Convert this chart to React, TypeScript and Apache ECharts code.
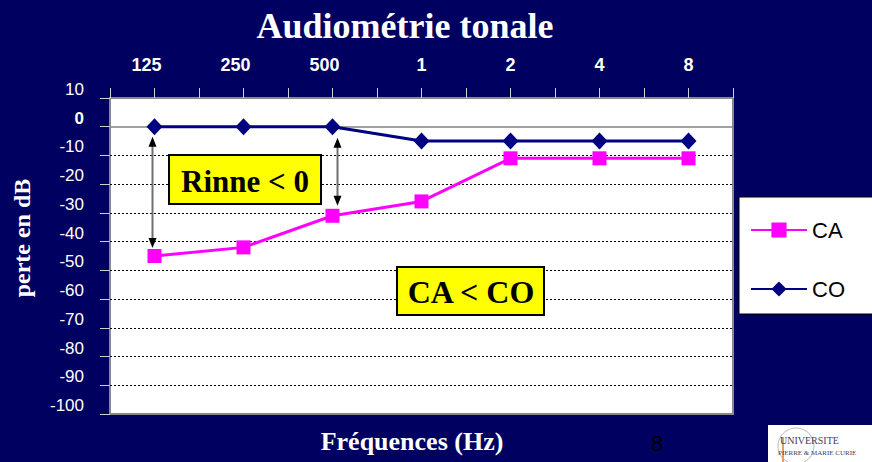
import React, { useEffect, useRef } from "react";
import * as echarts from "echarts";

const categories = ["125", "250", "500", "1", "2", "4", "8"];
const caValues = [-45, -42, -31, -26, -11, -11, -11];
const coValues = [0, 0, 0, -5, -5, -5, -5];
const yMin = -100;
const yMax = 10;
const yStep = 10;
const halfTicks = categories.flatMap((c) => [c + "-a", c + "-b"]);

const SERIF = '"Liberation Serif", "Times New Roman", serif';
const SANS = '"Liberation Sans", Arial, sans-serif';

export default function App() {
  const ref = useRef<HTMLDivElement>(null);

  useEffect(() => {
    if (!ref.current) return;
    const chart = echarts.init(ref.current, null, { renderer: "svg" });

    const splitColors: string[] = [];
    for (let v = yMin; v <= yMax; v += yStep) {
      splitColors.push(v === yMin || v === 0 || v === yMax ? "rgba(0,0,0,0)" : "#000000");
    }

    const option: any = {
      animation: false,
      backgroundColor: "#000060",
      grid: {
        left: 110,
        right: 139,
        top: 98,
        bottom: 48,
        show: true,
        backgroundColor: "#ffffff",
        borderColor: "#888888",
        borderWidth: 2,
        containLabel: false,
        outerBoundsMode: "none",
      },
      legend: {
        orient: "vertical",
        left: 739,
        top: 197,
        backgroundColor: "#ffffff",
        borderColor: "#000000",
        borderWidth: 1,
        borderRadius: 0,
        padding: [22, 40, 14, 11],
        itemWidth: 56,
        itemHeight: 19,
        itemGap: 37,
        selectedMode: false,
        textStyle: { fontFamily: SANS, fontSize: 22, color: "#000000" },
        data: ["CA", "CO"],
      },
      xAxis: [
        {
          type: "category",
          position: "top",
          data: categories,
          boundaryGap: true,
          axisLine: { show: false },
          axisTick: { show: false },
          splitLine: { show: false },
          axisLabel: {
            show: true,
            interval: 0,
            margin: 24,
            color: "#ffffff",
            fontFamily: SANS,
            fontWeight: "bold",
            fontSize: 18,
            formatter: (v: string) => (v.length > 1 ? `{w|${v}}` : `{n|${v}}`),
            rich: {
              w: { color: "#ffffff", fontFamily: SANS, fontWeight: "bold", fontSize: 18, padding: [0, 16, 0, 0] },
              n: { color: "#ffffff", fontFamily: SANS, fontWeight: "bold", fontSize: 18 },
            },
          },
        },
        {
          type: "category",
          position: "top",
          data: halfTicks,
          boundaryGap: true,
          axisLine: { show: false },
          axisLabel: { show: false },
          splitLine: { show: false },
          axisTick: { show: true, interval: 0, length: 10, inside: false, lineStyle: { color: "#d0d0d0", width: 1 } },
        },
      ],
      yAxis: {
        type: "value",
        min: yMin,
        max: yMax,
        interval: yStep,
        axisLine: { show: false },
        axisTick: { show: true, length: 10, inside: false, lineStyle: { color: "#d0d0d0", width: 1 } },
        splitLine: { show: true, lineStyle: { color: splitColors, type: [2, 2], width: 1 } },
        axisLabel: {
          margin: 26,
          color: "#ffffff",
          fontFamily: SANS,
          fontSize: 17,
          verticalAlign: "bottom",
          formatter: (v: number) => (v === 0 ? "{b|0}" : `{r|${v}}`),
          rich: {
            b: { color: "#ffffff", fontFamily: SANS, fontSize: 17, fontWeight: "bold" },
            r: { color: "#ffffff", fontFamily: SANS, fontSize: 17 },
          },
        },
      },
      series: [
        {
          name: "CA",
          type: "line",
          data: caValues,
          symbol: "rect",
          symbolSize: 14,
          itemStyle: { color: "#ff00ff" },
          lineStyle: { color: "#ff00ff", width: 3 },
          z: 3,
        },
        {
          name: "CO",
          type: "line",
          data: coValues,
          symbol: "diamond",
          symbolSize: [16, 17],
          itemStyle: { color: "#000080" },
          lineStyle: { color: "#000080", width: 3 },
          z: 4,
          markLine: {
            silent: true,
            z: 1,
            symbol: "none",
            label: { show: false },
            lineStyle: { color: "#808080", type: "solid", width: 1.5 },
            data: [{ yAxis: 0 }],
          },
        },
      ],
    };

    chart.setOption(option);

    const px = (i: number, v: number) =>
      chart.convertToPixel({ xAxisIndex: 0, yAxisIndex: 0 }, [i, v]) as number[];

    const arrow = (i: number, dx: number, topGap: number, botGap: number) => {
      const a = px(i, coValues[i]);
      const b = px(i, caValues[i]);
      const x = a[0] + dx;
      const y1 = a[1] + topGap;
      const y2 = b[1] - botGap;
      return [
        { type: "line", z: 50, shape: { x1: x, y1: y1 + 6, x2: x, y2: y2 - 6 }, style: { stroke: "#6e6e6e", lineWidth: 2 } },
        { type: "polygon", z: 51, shape: { points: [[x, y1], [x - 4, y1 + 10], [x + 4, y1 + 10]] }, style: { fill: "#000000" } },
        { type: "polygon", z: 51, shape: { points: [[x, y2], [x - 4, y2 - 10], [x + 4, y2 - 10]] }, style: { fill: "#000000" } },
      ];
    };

    const graphics: any[] = [
      {
        type: "text",
        x: 405,
        y: 26,
        style: { text: "Audiométrie tonale", fill: "#ffffff", font: `bold 36px ${SERIF}`, textAlign: "center", textVerticalAlign: "middle" },
      },
      {
        type: "text",
        x: 22,
        y: 238,
        rotation: Math.PI / 2,
        style: { text: "perte en dB", fill: "#ffffff", font: `bold 24px ${SERIF}`, textAlign: "center", textVerticalAlign: "middle" },
      },
      {
        type: "text",
        x: 412,
        y: 441,
        style: { text: "Fréquences (Hz)", fill: "#ffffff", font: `bold 26px ${SERIF}`, textAlign: "center", textVerticalAlign: "middle" },
      },
      {
        type: "text",
        x: 657,
        y: 443,
        style: { text: "8", fill: "#000000", font: `22px ${SANS}`, textAlign: "center", textVerticalAlign: "middle" },
      },
      ...arrow(0, -2, 10, 8),
      ...arrow(2, 5, 11, 10),
      {
        type: "group",
        z: 60,
        children: [
          { type: "rect", shape: { x: 169, y: 155, width: 152, height: 49 }, style: { fill: "#ffff00", stroke: "#000000", lineWidth: 2 } },
          { type: "text", x: 245, y: 181, style: { text: "Rinne < 0", fill: "#000000", font: `bold 31px ${SERIF}`, textAlign: "center", textVerticalAlign: "middle" } },
        ],
      },
      {
        type: "group",
        z: 60,
        children: [
          { type: "rect", shape: { x: 397, y: 267, width: 147, height: 48 }, style: { fill: "#ffff00", stroke: "#000000", lineWidth: 2 } },
          { type: "text", x: 471, y: 292, style: { text: "CA < CO", fill: "#000000", font: `bold 32px ${SERIF}`, textAlign: "center", textVerticalAlign: "middle" } },
        ],
      },
      {
        type: "group",
        z: 60,
        children: [
          { type: "rect", shape: { x: 768, y: 425, width: 104, height: 37 }, style: { fill: "#ffffff" } },
          { type: "circle", shape: { cx: 796, cy: 446, r: 18 }, style: { fill: "none", stroke: "#b8b8b8", lineWidth: 1 } },
          { type: "line", shape: { x1: 783, y1: 437, x2: 783, y2: 462 }, style: { stroke: "#e0a070", lineWidth: 2 } },
          { type: "text", x: 780, y: 445, style: { text: "UNIVERSITE", fill: "#404060", font: `10px ${SERIF}`, textVerticalAlign: "bottom" } },
          { type: "text", x: 778, y: 456, style: { text: "PIERRE & MARIE CURIE", fill: "#404060", font: `7px ${SERIF}`, textVerticalAlign: "bottom" } },
        ],
      },
    ];

    chart.setOption({ graphic: graphics });

    return () => chart.dispose();
  }, []);

  return (
    <div
      ref={ref}
      style={{ position: "fixed", left: 0, top: 0, width: 872, height: 462 }}
    />
  );
}
